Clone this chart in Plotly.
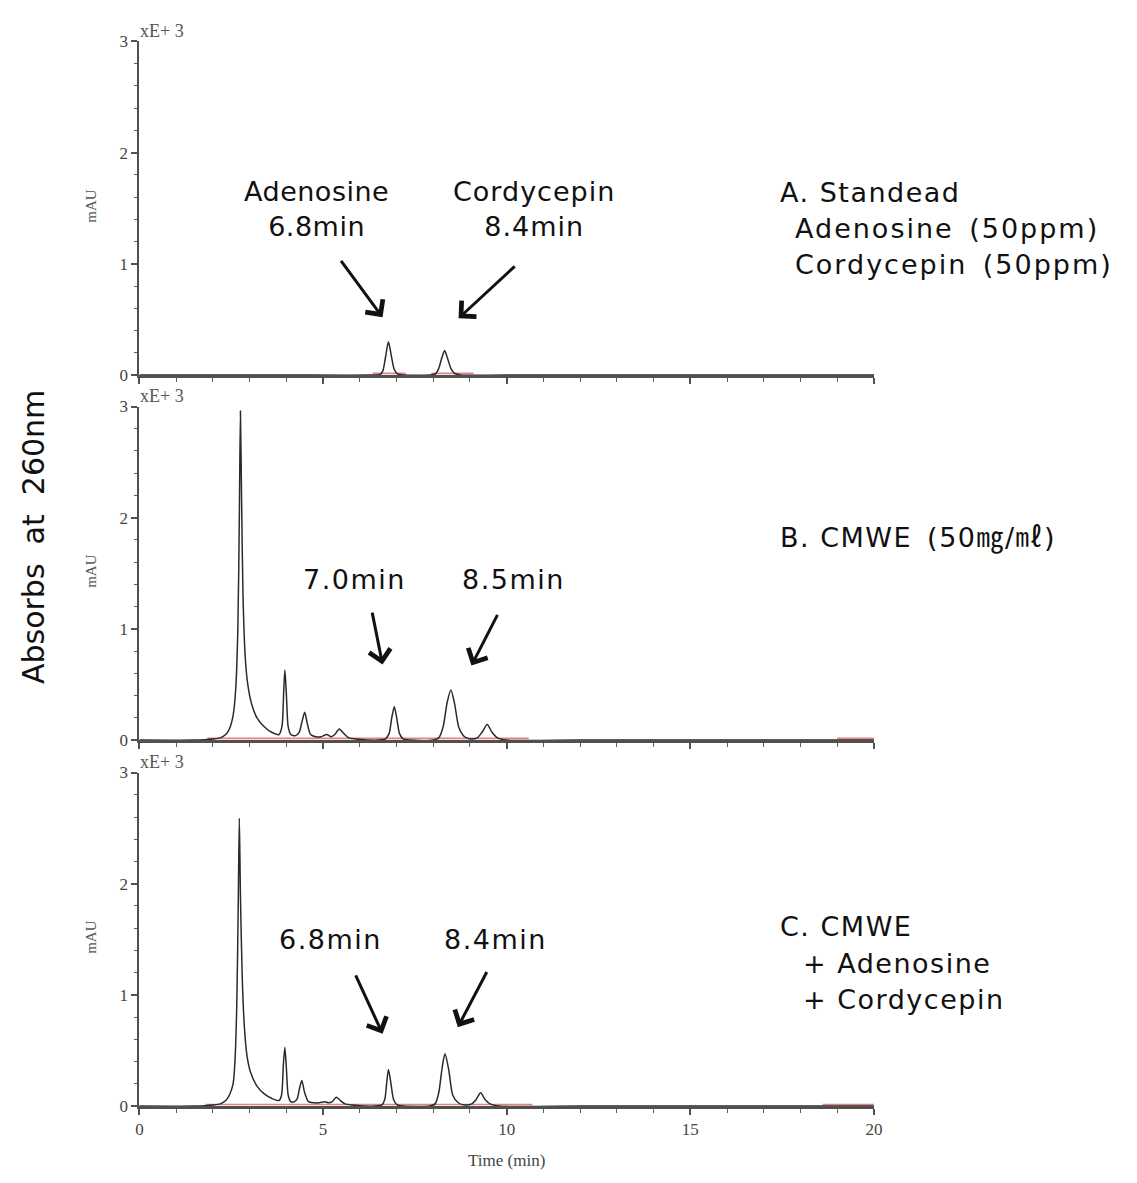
import plotly.graph_objects as go

W, H = 1137, 1183

# ---------------- data ----------------
# chromatogram traces: (time [min], absorbance [x1000 mAU])
trace_A = [(0, 0), (2.0, 0), (4.0, 0), (6.3, 0), (6.55, 0.005), (6.63, 0.04), (6.7, 0.16),
           (6.78, 0.30), (6.86, 0.17), (6.94, 0.05), (7.03, 0.01), (7.2, 0), (7.9, 0),
           (8.06, 0.01), (8.15, 0.06), (8.23, 0.15), (8.31, 0.22), (8.39, 0.15), (8.48, 0.06),
           (8.58, 0.015), (8.75, 0), (10, 0), (15, 0), (20, 0)]

trace_B = [(0, 0), (1.5, 0), (2.0, 0.01), (2.2, 0.02), (2.35, 0.05), (2.45, 0.1), (2.55, 0.22),
           (2.62, 0.45), (2.68, 1.0), (2.72, 2.0), (2.75, 2.96), (2.78, 2.2), (2.82, 1.3),
           (2.88, 0.75), (2.95, 0.5), (3.05, 0.33), (3.2, 0.2), (3.4, 0.12), (3.6, 0.07),
           (3.8, 0.05), (3.88, 0.12), (3.93, 0.45), (3.96, 0.63), (4.0, 0.42), (4.05, 0.12),
           (4.12, 0.05), (4.25, 0.04), (4.35, 0.07), (4.43, 0.17), (4.5, 0.25), (4.57, 0.15),
           (4.66, 0.05), (4.8, 0.03), (4.95, 0.03), (5.1, 0.05), (5.22, 0.03), (5.32, 0.05),
           (5.44, 0.10), (5.56, 0.06), (5.7, 0.02), (5.9, 0.01), (6.5, 0), (6.7, 0.01),
           (6.8, 0.06), (6.87, 0.2), (6.94, 0.30), (7.01, 0.19), (7.08, 0.06), (7.18, 0.01),
           (7.4, 0), (8.0, 0), (8.15, 0.02), (8.27, 0.12), (8.38, 0.34), (8.48, 0.45),
           (8.58, 0.33), (8.7, 0.11), (8.85, 0.03), (9.0, 0.01), (9.2, 0.02), (9.33, 0.07),
           (9.47, 0.14), (9.6, 0.07), (9.75, 0.02), (10.0, 0), (12, 0), (15, 0), (20, 0)]

trace_C = [(0, 0), (1.5, 0), (2.0, 0.01), (2.2, 0.02), (2.35, 0.05), (2.45, 0.1), (2.55, 0.2),
           (2.6, 0.4), (2.65, 0.9), (2.69, 1.8), (2.72, 2.59), (2.75, 1.9), (2.8, 1.15),
           (2.86, 0.7), (2.93, 0.45), (3.03, 0.3), (3.2, 0.18), (3.4, 0.11), (3.6, 0.07),
           (3.8, 0.05), (3.87, 0.1), (3.92, 0.38), (3.96, 0.53), (4.0, 0.35), (4.05, 0.1),
           (4.12, 0.04), (4.22, 0.04), (4.3, 0.07), (4.36, 0.16), (4.42, 0.23), (4.5, 0.12),
           (4.6, 0.04), (4.75, 0.03), (4.9, 0.03), (5.05, 0.04), (5.15, 0.03), (5.25, 0.04),
           (5.36, 0.08), (5.47, 0.05), (5.6, 0.02), (5.8, 0.01), (6.4, 0), (6.6, 0.01),
           (6.68, 0.06), (6.73, 0.2), (6.78, 0.33), (6.85, 0.2), (6.92, 0.06), (7.02, 0.01),
           (7.2, 0), (7.9, 0), (8.05, 0.02), (8.15, 0.12), (8.24, 0.34), (8.32, 0.47),
           (8.42, 0.33), (8.53, 0.1), (8.68, 0.03), (8.85, 0.01), (9.05, 0.02), (9.17, 0.06),
           (9.29, 0.12), (9.41, 0.06), (9.55, 0.02), (9.8, 0), (12, 0), (15, 0), (20, 0)]

# integration baselines (red): (start, end) in minutes
baseline_A = [(6.35, 7.25), (7.95, 9.1)]
baseline_B = [(1.85, 10.6), (19.0, 20.0)]
baseline_C = [(1.8, 10.7), (18.6, 20.0)]
baseline_level = 0.015

x_ticks = [0, 5, 10, 15, 20]
y_ticks = [0, 1, 2, 3]

# annotations per panel
peak_labels_A = [["Adenosine", "6.8min"], ["Cordycepin", "8.4min"]]
peak_labels_B = ["7.0min", "8.5min"]
peak_labels_C = ["6.8min", "8.4min"]
panel_text_A = ["A. Standead", "Adenosine\u2002(50ppm)", "Cordycepin\u2002(50ppm)"]
panel_text_B = ["B. CMWE\u2002(50㎎/㎖)"]
panel_text_C = ["C. CMWE", "+ Adenosine", "+ Cordycepin"]
# arrows: (tail_t, tail_v, head_t, head_v)
arrows_A = [(5.46, 1.04, 6.62, 0.52), (10.26, 0.99, 8.69, 0.51)]
arrows_B = [(6.33, 1.16, 6.62, 0.68), (9.77, 1.14, 9.04, 0.67)]
arrows_C = [(5.87, 1.19, 6.62, 0.65), (9.48, 1.22, 8.67, 0.71)]

# ---------------- layout helpers ----------------
def px(x):
    return x / W


def py(y):
    return 1 - y / H


X0, X1 = 137, 880
panels = [  # (zero pixel row, top pixel row)
    (372, 33), (743, 404), (1115, 776)
]

fig = go.Figure()

traces = [trace_A, trace_B, trace_C]
baselines = [baseline_A, baseline_B, baseline_C]
SERIF = "Liberation Serif, DejaVu Serif, serif"
TICKFONT = dict(family=SERIF, size=17, color="#444444")
SANS = "DejaVu Sans, Noto Sans CJK KR, sans-serif"

for i in range(3):
    xa = "x" if i == 0 else f"x{i+1}"
    ya = "y" if i == 0 else f"y{i+1}"
    for (s, e) in baselines[i]:
        fig.add_trace(go.Scatter(x=[s, e], y=[baseline_level, baseline_level], mode="lines",
                                 line=dict(color="rgba(220,90,90,0.75)", width=1.6),
                                 xaxis=xa, yaxis=ya, showlegend=False, hoverinfo="skip"))
    t = [p[0] for p in traces[i]]
    v = [p[1] for p in traces[i]]
    fig.add_trace(go.Scatter(x=t, y=v, mode="lines",
                             line=dict(color="#2a2a2a", width=1.5, shape="spline", smoothing=0.7),
                             xaxis=xa, yaxis=ya, showlegend=False, hoverinfo="skip"))

layout = dict(
    width=W, height=H, margin=dict(l=0, r=0, t=0, b=0),
    paper_bgcolor="white", plot_bgcolor="white", showlegend=False,
)

for i, (zero, top) in enumerate(panels):
    xk = "xaxis" if i == 0 else f"xaxis{i+1}"
    yk = "yaxis" if i == 0 else f"yaxis{i+1}"
    ya = "y" if i == 0 else f"y{i+1}"
    xa = "x" if i == 0 else f"x{i+1}"
    layout[xk] = dict(
        domain=[px(X0), px(X1)], range=[0, 20], anchor=ya,
        showgrid=False, zeroline=False, showline=True, linecolor="#505050", linewidth=2.5,
        ticks="outside", tickvals=x_ticks, ticklen=6, tickwidth=1.5, tickcolor="#505050",
        showticklabels=(i == 2), tickfont=TICKFONT,
        minor=dict(dtick=1, ticks="outside", ticklen=4, tickwidth=1, tickcolor="#606060"),
    )
    layout[yk] = dict(
        domain=[py(zero), py(top)], range=[0, 3], anchor=xa,
        showgrid=False, zeroline=False, showline=True, linecolor="#505050", linewidth=2,
        ticks="outside", tickvals=y_ticks, ticklen=6, tickwidth=1.5, tickcolor="#505050",
        tickfont=TICKFONT,
        minor=dict(dtick=0.2, ticks="outside", ticklen=3, tickwidth=1, tickcolor="#606060"),
    )

layout["xaxis3"]["title"] = dict(text="Time (min)", standoff=16,
                                 font=dict(family=SERIF, size=17, color="#444444"))

fig.update_layout(**layout)

ann = []
for i, (zero, top) in enumerate(panels):
    ann.append(dict(text="xE+ 3", x=px(136), y=py(zero - 350), xref="paper", yref="paper",
                    xanchor="left", yanchor="middle", showarrow=False,
                    font=dict(family=SERIF, size=18, color="#555555")))
    ann.append(dict(text="mAU", x=px(88), y=py(zero - 172), xref="paper", yref="paper",
                    xanchor="center", yanchor="middle", showarrow=False, textangle=-90,
                    font=dict(family=SERIF, size=15, color="#555555")))

ann.append(dict(text="Absorbs\u00a0\u00a0at\u00a0\u00a0260nm", x=px(30), y=py(537), xref="paper", yref="paper",
                xanchor="center", yanchor="middle", showarrow=False, textangle=-90,
                font=dict(family=SANS, size=30, color="#111111")))

BIG = dict(family=SANS, size=27, color="#111111")


def spaced(s, ls):
    return f'<span style="letter-spacing:{ls}px">{s}</span>'


def label(lines, cx, cy, anchor="center", ls=1.5):
    if isinstance(lines, str):
        lines = [lines]
    text = "<br>".join(spaced(s, ls) for s in lines)
    ann.append(dict(text=text, x=px(cx), y=py(cy), xref="paper", yref="paper",
                    xanchor=anchor, yanchor="middle", showarrow=False, font=BIG,
                    align="center" if anchor == "center" else "left"))


# Panel A
label(peak_labels_A[0], 316, 203, ls=0.5)
label(peak_labels_A[1], 536, 203, ls=1.0)
label(panel_text_A[0], 783, 186, "left")
label(panel_text_A[1], 798, 223, "left", ls=2)
label(panel_text_A[2], 798, 260, "left", ls=2)
# Panel B
label(peak_labels_B[0], 355, 580)
label(peak_labels_B[1], 515, 580)
label(panel_text_B[0], 783, 538, "left")
# Panel C
label(peak_labels_C[0], 330, 946)
label(peak_labels_C[1], 497, 946)
label(panel_text_C[0], 783, 932, "left")
label(panel_text_C[1], 806, 970, "left")
label(panel_text_C[2], 806, 1007, "left")

for i, arr in enumerate([arrows_A, arrows_B, arrows_C]):
    xa = "x" if i == 0 else f"x{i+1}"
    ya = "y" if i == 0 else f"y{i+1}"
    for (tt, tv, ht, hv) in arr:
        ann.append(dict(text="", x=ht, y=hv, xref=xa, yref=ya, ax=tt, ay=tv, axref=xa, ayref=ya,
                        showarrow=True, arrowhead=4, arrowsize=1.4, arrowwidth=3,
                        arrowcolor="#111111", standoff=0, startstandoff=0))

fig.update_layout(annotations=ann)
fig.write_html(
    "out.html",
    post_script="document.documentElement.style.margin='0';document.body.style.margin='0';"
                "document.body.style.padding='0';document.body.style.overflow='hidden';",
)
